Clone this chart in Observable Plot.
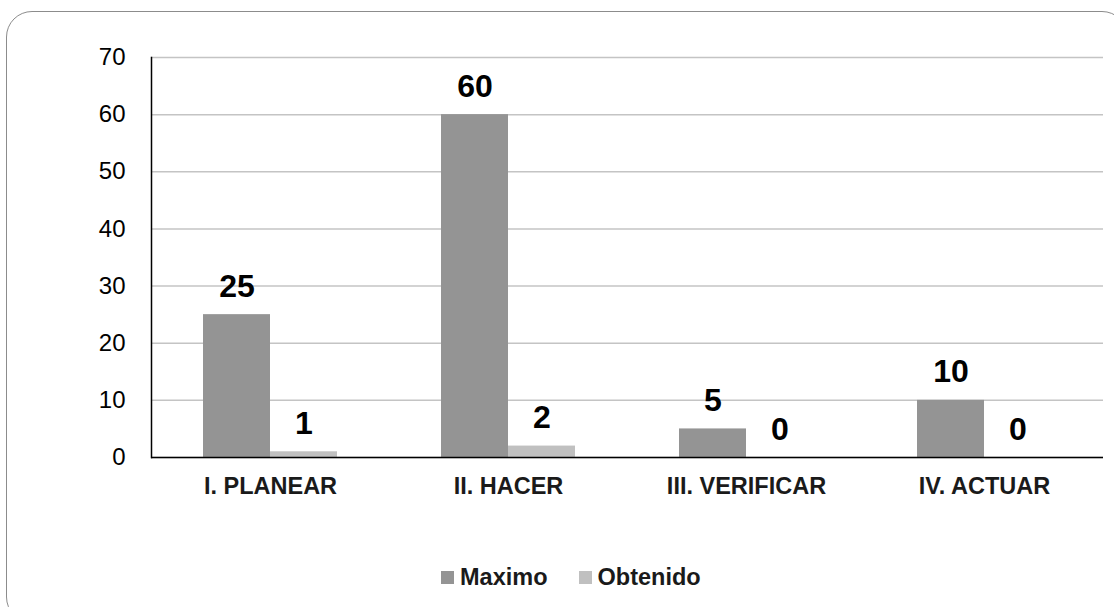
<!DOCTYPE html>
<html>
<head>
<meta charset="utf-8">
<script src="https://cdn.jsdelivr.net/npm/d3@7"></script>
<script src="https://cdn.jsdelivr.net/npm/@observablehq/plot@0.6"></script>
<style>
  html, body { margin: 0; padding: 0; background: #fff; }
  #wrap { position: relative; width: 1114px; height: 607px; overflow: hidden; font-family: "Liberation Sans", Arial, sans-serif; }
  #border { position: absolute; left: 6px; top: 11px; width: 1122px; height: 612px; border: 1.5px solid #8c8c8c; border-radius: 26px; box-sizing: border-box; }
  #chart { position: absolute; left: 0; top: 0; }
  #legend { position: absolute; top: 564px; left: 441px; display: flex; align-items: center; font-size: 23.5px; font-weight: bold; color: #1a1a1a; }
  #legend .sw { display: inline-block; width: 13px; height: 13px; margin-right: 6px; }
  #legend .item { display: flex; align-items: center; margin-right: 31px; }
</style>
</head>
<body>
<div id="wrap">
  <div id="border"></div>
  <div id="chart"></div>
  <div id="legend"></div>
</div>
<script>
const categories = ["I. PLANEAR", "II. HACER", "III. VERIFICAR", "IV. ACTUAR"];
const seriesNames = ["Maximo", "Obtenido"];
const maximo = [25, 60, 5, 10];
const obtenido = [1, 2, 0, 0];
const yTicks = [0, 10, 20, 30, 40, 50, 60, 70];
const colors = ["#949494", "#c0c0c0"];

const data = [];
categories.forEach((c, i) => {
  data.push({cat: c, series: seriesNames[0], value: maximo[i]});
  data.push({cat: c, series: seriesNames[1], value: obtenido[i]});
});

const plot = Plot.plot({
  width: 1114,
  height: 530,
  marginLeft: 150,
  marginRight: 10,
  marginTop: 57,
  marginBottom: 73,
  style: {fontFamily: "'Liberation Sans', Arial, sans-serif", background: "transparent"},
  fx: {domain: categories, padding: 0, axis: null},
  x: {domain: seriesNames, paddingInner: 0, paddingOuter: 0.754, axis: null},
  y: {domain: [0, 70], axis: null},
  color: {domain: seriesNames, range: colors},
  marks: [
    Plot.gridY(yTicks, {stroke: "#c4c4c4", strokeOpacity: 1, strokeWidth: 1.5}),
    Plot.barY(data, {fx: "cat", x: "series", y: "value", fill: "series", inset: 0}),
    Plot.ruleY([0], {stroke: "#000", strokeWidth: 1.5}),
    Plot.frame({anchor: "left", facetAnchor: "left", stroke: "#000", strokeWidth: 1.5}),
    Plot.axisY(yTicks, {tickSize: 0, tickPadding: 26, fontSize: 24, fill: "#000", label: null, tickFormat: d => String(d)}),
    Plot.axisFx({anchor: "bottom", tickSize: 0, tickPadding: 20, fontSize: 23.5, fontWeight: "bold", fill: "#1a1a1a", label: null}),
    Plot.text(data, {fx: "cat", x: "series", y: "value", text: d => String(d.value), dy: -18, lineAnchor: "bottom", fontSize: 32, fontWeight: "bold", fill: "#000"})
  ]
});
document.getElementById("chart").appendChild(plot);

const legend = document.getElementById("legend");
seriesNames.forEach((s, i) => {
  const item = document.createElement("span");
  item.className = "item";
  const sw = document.createElement("span");
  sw.className = "sw";
  sw.style.background = colors[i];
  item.appendChild(sw);
  item.appendChild(document.createTextNode(s));
  legend.appendChild(item);
});
</script>
</body>
</html>
